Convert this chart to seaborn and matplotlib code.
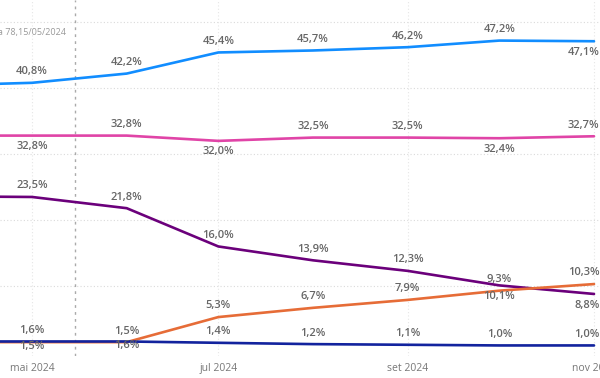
import numpy as np
import pandas as pd
import matplotlib
matplotlib.use("Agg")
import matplotlib.pyplot as plt
import seaborn as sns

# monthly survey points (first of month)
months = ["2024-04-01", "2024-05-01", "2024-06-01", "2024-07-01",
          "2024-08-01", "2024-09-01", "2024-10-01", "2024-11-01"]
blue_vals = [40.4, 40.8, 42.2, 45.4, 45.7, 46.2, 47.2, 47.1]
pink_vals = [32.8, 32.8, 32.8, 32.0, 32.5, 32.5, 32.4, 32.7]
purple_vals = [23.6, 23.5, 21.8, 16.0, 13.9, 12.3, 10.1, 8.8]
orange_vals = [1.5, 1.5, 1.5, 5.3, 6.7, 7.9, 9.3, 10.3]
navy_vals = [1.6, 1.6, 1.6, 1.4, 1.2, 1.1, 1.0, 1.0]

tick_dates = ["2024-05-01", "2024-07-01", "2024-09-01", "2024-11-01"]
tick_labels = ["mai 2024", "jul 2024", "set 2024", "nov 2024"]
marker_date = "2024-05-15"
marker_text = "Média 78,15/05/2024"

series = {
    "s1": blue_vals,
    "s2": pink_vals,
    "s3": purple_vals,
    "s4": orange_vals,
    "s5": navy_vals,
}
palette = {"s1": "#118DFF", "s2": "#E044A7", "s3": "#6B007B",
           "s4": "#E66C37", "s5": "#12239E"}

# label side per point: 1 above, -1 below, 0 none
sides = {
    "s1": [0, 1, 1, 1, 1, 1, 1, -1],
    "s2": [0, -1, 1, -1, 1, 1, -1, 1],
    "s3": [0, 1, 1, 1, 1, 1, -1, -1],
    "s4": [0, -0.4, 1, 1, 1, 1, 1, 1],
    "s5": [0, 1, -0.4, 1, 1, 1, 1, 1],
}

df = pd.concat(
    [pd.DataFrame({"mes": pd.to_datetime(months), "valor": v, "serie": k})
     for k, v in series.items()],
    ignore_index=True,
)

sns.set_theme(style="white")
plt.rcParams["font.family"] = ["Open Sans", "DejaVu Sans"]

fig = plt.figure(figsize=(6, 3.78), dpi=100)
ax = fig.add_axes([0, 22 / 378, 1, 356 / 378])

sns.lineplot(data=df, x="mes", y="valor", hue="serie", palette=palette,
             linewidth=1.9, legend=False, ax=ax)

# value labels (last point kept inside the plot, like Power BI)
n = len(months)
for k, vals in series.items():
    for i, (d, v, s) in enumerate(zip(pd.to_datetime(months), vals, sides[k])):
        if s == 0:
            continue
        last = i == n - 1
        ax.annotate(f"{v:.1f}%".replace(".", ","), xy=(d, v),
                    xytext=(4 if last else 0, 8 * s), textcoords="offset points",
                    ha="right" if last else "center", va="center", fontsize=8,
                    fontweight="semibold", color="#666666")

# gridlines
for g in [10, 20, 30, 40, 50]:
    ax.axhline(g, color="#dadada", linestyle=(0, (1, 2)), linewidth=0.8, zorder=0)
for t in pd.to_datetime(tick_dates):
    ax.axvline(t, color="#e6e6e6", linestyle=(0, (1, 2)), linewidth=0.8, zorder=0)

# reference marker
md = pd.Timestamp(marker_date)
ax.axvline(md, color="#aaaaaa", linestyle=(0, (2, 3)), linewidth=1.0, zorder=0)
ax.annotate(marker_text, xy=(md, 48.5), xytext=(-6, 0), textcoords="offset points",
            ha="right", va="center", fontsize=6.5, color="#999999")

ax.set_xlim(pd.Timestamp("2024-04-20 12:30"), pd.Timestamp("2024-11-02 23:00"))
ax.set_ylim(-0.6, 53.35)
ax.set_xticks(pd.to_datetime(tick_dates))
ax.set_xticklabels(tick_labels)
ax.tick_params(axis="x", length=0, pad=5, labelsize=7.5, labelcolor="#777777")
ax.set_yticks([])
ax.set_xlabel("")
ax.set_ylabel("")
for sp in ax.spines.values():
    sp.set_visible(False)

fig.savefig("out.png", dpi=100)
